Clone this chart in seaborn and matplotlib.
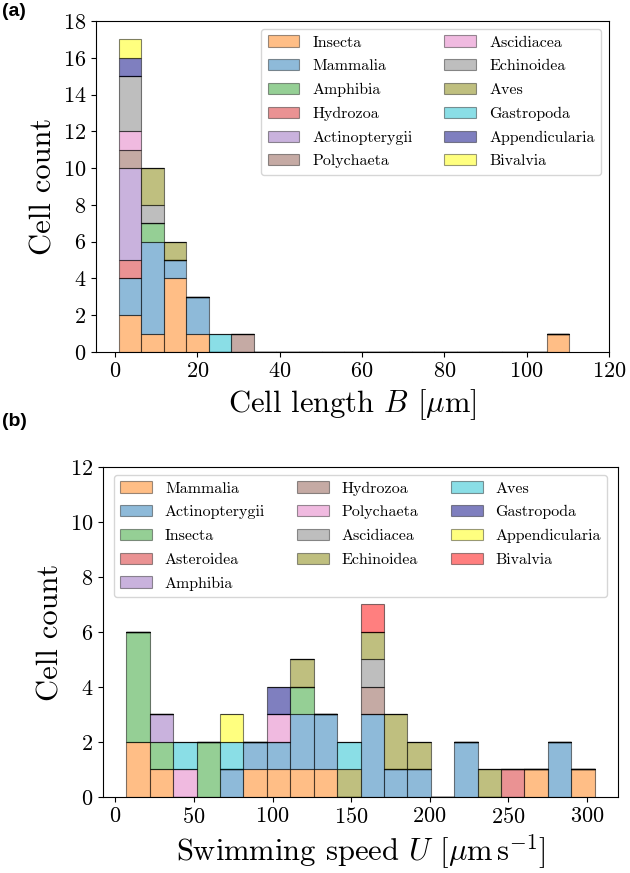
import numpy as np
import pandas as pd
import seaborn as sns
import matplotlib.pyplot as plt
from matplotlib.colors import to_rgba
from matplotlib.patches import Patch

# 字体与样式
plt.rcParams['font.family'] = 'serif'
plt.rcParams['font.serif'] = ['cmr10']
plt.rcParams['mathtext.fontset'] = 'cm'
plt.rcParams['axes.formatter.use_mathtext'] = True

# (a) 细胞长度 B [um]，按纲分组
len_classes = ['Insecta', 'Mammalia', 'Amphibia', 'Hydrozoa', 'Actinopterygii', 'Polychaeta',
               'Ascidiacea', 'Echinoidea', 'Aves', 'Gastropoda', 'Appendicularia', 'Bivalvia']
len_insecta = [0.9, 3.5, 8.0, 12.5, 14.0, 15.0, 16.5, 19.5, 110.4]
len_mammalia = [2.5, 5.0, 7.0, 8.0, 9.0, 10.0, 11.0, 13.0, 18.5, 21.0]
len_amphibia = [9.5]
len_hydrozoa = [4.0]
len_actinopterygii = [1.5, 2.0, 3.0, 4.5, 6.0]
len_polychaeta = [3.0, 31.0]
len_ascidiacea = [2.0]
len_echinoidea = [1.2, 2.8, 5.5, 7.5]
len_aves = [8.5, 10.5, 15.5]
len_gastropoda = [25.0]
len_appendicularia = [1.0]
len_bivalvia = [3.8]
len_colors = ['tab:orange', 'tab:blue', 'tab:green', 'tab:red', 'tab:purple', 'tab:brown',
              'tab:pink', 'tab:gray', 'olive', 'tab:cyan', 'navy', 'yellow']

# (b) 游动速度 U [um/s]
spd_classes = ['Mammalia', 'Actinopterygii', 'Insecta', 'Asteroidea', 'Amphibia', 'Hydrozoa',
               'Polychaeta', 'Ascidiacea', 'Echinoidea', 'Aves', 'Gastropoda', 'Appendicularia',
               'Bivalvia']
spd_mammalia = [7.0, 15.0, 25.0, 85.0, 100.0, 115.0, 130.0, 265.0, 305.0]
spd_actinopterygii = [70.0, 90.0, 105.0, 115.0, 120.0, 135.0, 140.0, 158.0, 162.0, 167.0,
                      180.0, 195.0, 220.0, 225.0, 280.0, 285.0]
spd_insecta = [10.0, 12.0, 16.0, 20.0, 30.0, 55.0, 62.0, 122.0]
spd_asteroidea = [255.0]
spd_amphibia = [33.0]
spd_hydrozoa = [165.0]
spd_polychaeta = [45.0, 108.0]
spd_ascidiacea = [160.0]
spd_echinoidea = [118.0, 150.0, 164.0, 175.0, 182.0, 190.0, 240.0]
spd_aves = [40.0, 75.0, 145.0]
spd_gastropoda = [102.0]
spd_appendicularia = [78.0]
spd_bivalvia = [168.0]
spd_colors = ['tab:orange', 'tab:blue', 'tab:green', 'tab:red', 'tab:purple', 'tab:brown',
              'tab:pink', 'tab:gray', 'olive', 'tab:cyan', 'navy', 'yellow', 'red']

len_lists = [len_insecta, len_mammalia, len_amphibia, len_hydrozoa, len_actinopterygii,
             len_polychaeta, len_ascidiacea, len_echinoidea, len_aves, len_gastropoda,
             len_appendicularia, len_bivalvia]
spd_lists = [spd_mammalia, spd_actinopterygii, spd_insecta, spd_asteroidea, spd_amphibia,
             spd_hydrozoa, spd_polychaeta, spd_ascidiacea, spd_echinoidea, spd_aves,
             spd_gastropoda, spd_appendicularia, spd_bivalvia]


def to_frame(classes, lists, col):
    rows = []
    for c, vals in zip(classes, lists):
        for v in vals:
            rows.append({col: v, 'class': c})
    return pd.DataFrame(rows)


df_len = to_frame(len_classes, len_lists, 'B')
df_spd = to_frame(spd_classes, spd_lists, 'U')

fig = plt.figure(figsize=(6.3, 8.73), dpi=100)
ax1 = fig.add_axes([0.1524, 0.5968, 0.8143, 0.3791])
ax2 = fig.add_axes([0.1635, 0.0871, 0.8175, 0.3780])


def stacked_hist(ax, df, col, classes, colors):
    pal = dict(zip(classes, colors))
    sns.histplot(data=df, x=col, hue='class', hue_order=classes[::-1], palette=pal,
                 multiple='stack', bins=20, alpha=0.5, edgecolor=(0, 0, 0, 0.5),
                 linewidth=0.8, legend=False, ax=ax)
    handles = [Patch(facecolor=to_rgba(c, 0.5), edgecolor=(0, 0, 0, 0.4), linewidth=0.8)
               for c in colors]
    return handles


h1 = stacked_hist(ax1, df_len, 'B', len_classes, len_colors)
ax1.set_xlim(-4.6, 120)
ax1.set_ylim(0, 18)
ax1.set_yticks(np.arange(0, 19, 2))
ax1.set_xlabel(r'Cell length $B$ [$\mu$m]', fontsize=22)
ax1.set_ylabel('Cell count', fontsize=22)
ax1.legend(h1, len_classes, ncol=2, loc='upper right', fontsize=11.5, labelspacing=0.6)

h2 = stacked_hist(ax2, df_spd, 'U', spd_classes, spd_colors)
ax2.set_ylim(0, 12)
ax2.set_yticks(np.arange(0, 13, 2))
ax2.set_xlabel(r'Swimming speed $U$ [$\mu\mathrm{m\,s}^{-1}$]', fontsize=22)
ax2.set_ylabel('Cell count', fontsize=22)
ax2.legend(h2, spd_classes, ncol=3, loc='upper center', fontsize=11.5, labelspacing=0.6)

for ax in (ax1, ax2):
    ax.tick_params(labelsize=16)

fig.text(0.003, 0.997, '(a)', fontsize=14, fontweight='bold', family='Liberation Sans', va='top')
fig.text(0.003, 0.527, '(b)', fontsize=14, fontweight='bold', family='Liberation Sans', va='top')

plt.savefig('out.png', dpi=100)
plt.close()
